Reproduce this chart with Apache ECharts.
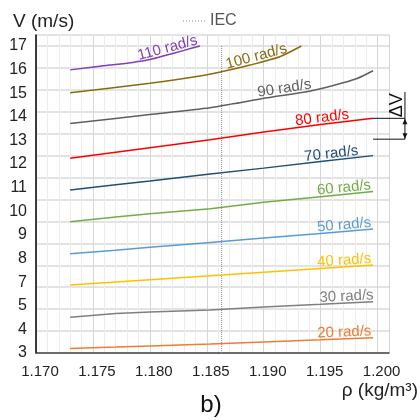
<!DOCTYPE html>
<html><head><meta charset="utf-8">
<script src="https://cdn.jsdelivr.net/npm/echarts@6/dist/echarts.min.js"></script>
<style>html,body{margin:0;padding:0;background:#fff}#c{width:420px;height:420px}</style>
</head><body><div id="c"></div>
<script>
// ---- data ----
const rhoCommon = [1.173, 1.177, 1.180, 1.1853, 1.190, 1.195, 1.1996];
const v20 = [3.21, 3.27, 3.32, 3.41, 3.50, 3.60, 3.70];
const v30 = [4.63, 4.80, 4.87, 4.96, 5.10, 5.22, 5.34];
const v40 = [6.10, 6.24, 6.34, 6.52, 6.68, 6.85, 7.01];
const v50 = [7.52, 7.69, 7.82, 8.04, 8.24, 8.45, 8.65];
const v60 = [8.99, 9.20, 9.35, 9.58, 9.87, 10.13, 10.36];
const v70 = [10.43, 10.67, 10.84, 11.16, 11.43, 11.73, 12.00];
const v80 = [11.88, 12.15, 12.36, 12.72, 13.08, 13.42, 13.70];
const rho90 = [1.173, 1.180, 1.1853, 1.1873, 1.1903, 1.1940, 1.1961, 1.1982, 1.1996];
const v90 = [13.47, 13.87, 14.18, 14.36, 14.64, 14.94, 15.20, 15.52, 15.87];
const rho100 = [1.173, 1.180, 1.1844, 1.1861, 1.1888, 1.1914, 1.1933];
const v100 = [14.87, 15.30, 15.63, 15.80, 16.13, 16.51, 17.00];
const rho110 = [1.173, 1.1765, 1.1785, 1.180, 1.1815, 1.183, 1.1844];
const v110 = [15.91, 16.13, 16.25, 16.38, 16.59, 16.80, 17.00];
const speedLabels = ['20 rad/s','30 rad/s','40 rad/s','50 rad/s','60 rad/s','70 rad/s','80 rad/s','90 rad/s','100 rad/s','110 rad/s'];
const iecRho = 1.1863;
const iecSpan = [3, 17];
const yTickLabels = ['3','4','5','7','8','9','10','11','12','13','14','15','16','17'];
const xTickLabels = ['1.170','1.175','1.180','1.185','1.190','1.195','1.200'];
const deltaVLow = 12.75, deltaVHigh = 13.70, deltaVTop = 14.90;
const deltaVFrom = 1.1996, deltaVAt = 1.2024;

// ---- styling ----
const FONT = "'Liberation Sans', Arial, sans-serif";
const colors = ['#ED7D31','#7F7F7F','#FFC000','#5B9BD5','#70AD47','#1F4E79','#FF0000','#5F5F5F','#8B6A0C','#7E3FB8'];
const seriesX = [rhoCommon,rhoCommon,rhoCommon,rhoCommon,rhoCommon,rhoCommon,rhoCommon,rho90,rho100,rho110];
const seriesY = [v20,v30,v40,v50,v60,v70,v80,v90,v100,v110];
const labelAt = [1.1971,1.1973,1.1971,1.1971,1.1971,1.1960,1.1952,1.1919,1.1895,1.1817];
const smoothness = [0,0,0,0,0,0,0,0.25,0.25,0.25];

const chart = echarts.init(document.getElementById('c'), null, {renderer:'canvas'});
const series = seriesY.map((vals, i) => ({
  name: speedLabels[i], type:'line', xAxisIndex:0, yAxisIndex:0,
  data: vals.map((v, j) => [seriesX[i][j], v]),
  symbol:'none', smooth: smoothness[i],
  lineStyle:{color: colors[i], width:1.5}, itemStyle:{color: colors[i]}, z:3
}));
series.push({
  name:'IEC', type:'line', xAxisIndex:0, yAxisIndex:0,
  data: iecSpan.map(v => [iecRho, v]), symbol:'none',
  lineStyle:{color:'#8a8a8a', width:1, type:'dotted'}, itemStyle:{color:'#8a8a8a'}, z:2
});

chart.setOption({
  animation:false,
  backgroundColor:'#fff',
  textStyle:{fontFamily:FONT},
  grid:{left:36, top:35, width:353, height:318},
  xAxis:[
    {type:'value', min:1.170, max:1.201, interval:0.001,
     axisLine:{show:true, onZero:false, lineStyle:{color:'#444', width:1.5}},
     axisTick:{show:false}, axisLabel:{show:false},
     splitLine:{show:true, lineStyle:{color:'#ececec', width:1}}},
    {type:'value', position:'bottom', min:1.170, max:1.201, interval:0.005,
     axisLine:{show:false}, axisTick:{show:false},
     axisLabel:{fontSize:15, color:'#222', margin:11, fontFamily:FONT, padding:[0,0,0,8],
       formatter:(v)=>{const k=Math.round((v-1.170)/0.005); return (Math.abs(v-(1.170+k*0.005))<1e-6 && k<xTickLabels.length)? xTickLabels[k] : '';}},
     splitLine:{show:true, lineStyle:{color:'#d6d6d6', width:1}}}
  ],
  yAxis:[
    {type:'value', min:3, max:17.5, interval:1,
     axisLine:{show:true, onZero:false, lineStyle:{color:'#000', width:1.5}},
     axisTick:{show:false}, axisLabel:{show:false},
     splitLine:{show:true, lineStyle:{color:'#dadada', width:1.5}}},
    {type:'value', position:'left', min:0, max:13.464, interval:1,
     axisLine:{show:false}, axisTick:{show:false}, splitLine:{show:false},
     axisLabel:{fontSize:16, color:'#222', margin:9, fontFamily:FONT,
       formatter:(v)=> Number.isInteger(v) && v < yTickLabels.length ? yTickLabels[v] : ''}}
  ],
  series: series
});

function interp(xs, ys, x){
  for (let i=0;i<xs.length-1;i++){
    if (x>=xs[i] && x<=xs[i+1]) return ys[i] + (ys[i+1]-ys[i])*(x-xs[i])/(xs[i+1]-xs[i]);
  }
  return x < xs[0] ? ys[0] : ys[ys.length-1];
}
const finder = {xAxisIndex:0, yAxisIndex:0};
const px = (x, y) => chart.convertToPixel(finder, [x, y]);
const graphics = [];
speedLabels.forEach((txt, i) => {
  const xs = seriesX[i], ys = seriesY[i], x = labelAt[i];
  const p = px(x, interp(xs, ys, x));
  const pa = px(x-0.0015, interp(xs, ys, x-0.0015));
  const pb = px(x+0.0015, interp(xs, ys, x+0.0015));
  const ang = Math.atan2(-(pb[1]-pa[1]), pb[0]-pa[0]);
  graphics.push({type:'text', x:p[0], y:p[1], rotation:ang, z:10, silent:true,
    style:{text:txt, x:0, y:1, align:'center', verticalAlign:'bottom',
      font:'15px ' + FONT, fill: colors[i]}});
});
// ΔV dimension annotation, anchored to data values
const aHiFrom = px(deltaVFrom, deltaVHigh), aHiAt = px(deltaVAt, deltaVHigh);
const aLoFrom = px(deltaVFrom, deltaVLow), aLoAt = px(deltaVAt, deltaVLow);
const aTop = px(deltaVAt, deltaVTop);
const ink = {stroke:'#111', lineWidth:1};
graphics.push({type:'line', shape:{x1:aHiFrom[0], y1:aHiFrom[1], x2:aHiAt[0], y2:aHiAt[1]}, style:ink, z:10});
graphics.push({type:'line', shape:{x1:aLoFrom[0], y1:aLoFrom[1], x2:aLoAt[0], y2:aLoAt[1]}, style:ink, z:10});
graphics.push({type:'line', shape:{x1:aTop[0], y1:aTop[1], x2:aLoAt[0], y2:aLoAt[1]}, style:ink, z:10});
graphics.push({type:'polygon', shape:{points:[[aHiAt[0], aHiAt[1]+0.5],[aHiAt[0]-2.5, aHiAt[1]+6],[aHiAt[0]+2.5, aHiAt[1]+6]]}, style:{fill:'#111'}, z:10});
graphics.push({type:'polygon', shape:{points:[[aLoAt[0], aLoAt[1]-0.5],[aLoAt[0]-2.5, aLoAt[1]-6],[aLoAt[0]+2.5, aLoAt[1]-6]]}, style:{fill:'#111'}, z:10});
graphics.push({type:'text', x:aTop[0]-8, y:(aTop[1]+aHiAt[1])/2, rotation:Math.PI/2, z:10, silent:true,
  style:{text:'ΔV', x:0, y:0, align:'center', verticalAlign:'middle', font:'18px ' + FONT, fill:'#111'}});
// IEC legend
graphics.push({type:'line', shape:{x1:183, y1:21, x2:207, y2:21}, style:{stroke:'#8a8a8a', lineWidth:1, lineDash:[1,2]}});
graphics.push({type:'text', x:210, y:21, style:{text:'IEC', align:'left', verticalAlign:'middle', font:'16px ' + FONT, fill:'#555'}});
// titles
graphics.push({type:'text', x:13, y:22, style:{text:'V (m/s)', align:'left', verticalAlign:'middle', font:'19px ' + FONT, fill:'#222'}});
graphics.push({type:'text', x:418, y:391, style:{text:'ρ (kg/m³)', align:'right', verticalAlign:'middle', font:'19px ' + FONT, fill:'#222'}});
graphics.push({type:'text', x:211, y:405, style:{text:'b)', align:'center', verticalAlign:'middle', font:'24px ' + FONT, fill:'#111'}});
chart.setOption({graphic: graphics});
</script>
</body></html>
